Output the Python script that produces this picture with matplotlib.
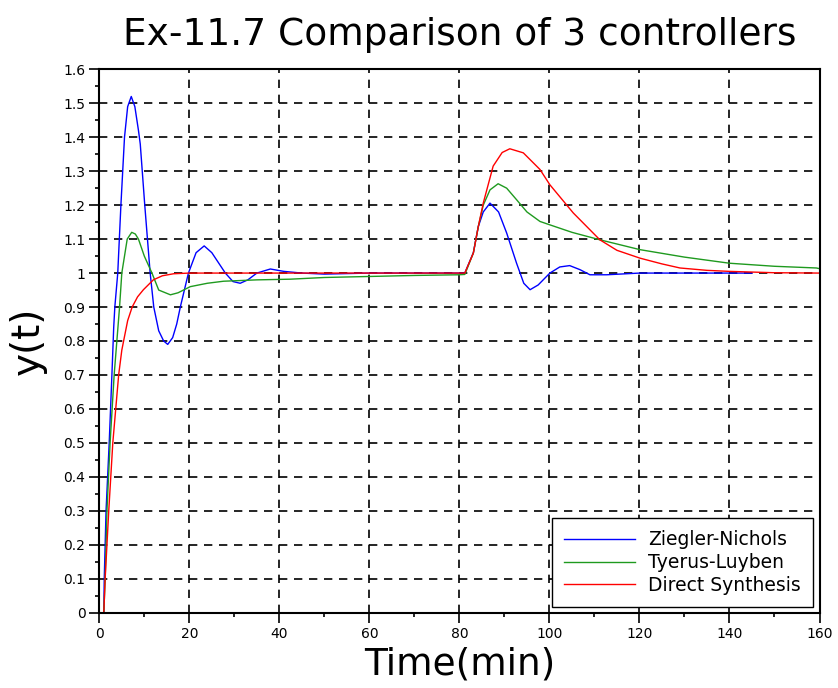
import matplotlib
matplotlib.use("Agg")
import matplotlib.pyplot as plt
from matplotlib.ticker import MultipleLocator

# ---- data ----
t_zn = [0, 1, 1.1, 1.5, 2.2, 2.8, 3.2, 3.45, 4.1, 4.8, 5.6, 6.3, 7.1, 7.9, 8.7, 9.1,
        10.1, 11.3, 12.1, 13.2, 14.3, 15.2, 16.3, 17.2, 18.0, 19.8, 21.5, 23.3, 25.0,
        26.5, 28.0, 29.7, 31.3, 33.0, 35.0, 38.0, 41.0, 45.0, 50.0, 60.0, 80.0, 81.2,
        83.1, 84.2, 85.3, 86.8, 88.7, 90.5, 92.7, 94.3, 95.7, 97.5, 100.1, 102.3,
        104.5, 106.8, 109.0, 112.7, 120.0, 145.0]
y_zn = [0, 0, 0.1, 0.3, 0.5, 0.7, 0.84, 0.9, 1.0, 1.2, 1.4, 1.49, 1.52, 1.49, 1.42, 1.38,
        1.2, 1.0, 0.9, 0.83, 0.80, 0.79, 0.81, 0.85, 0.9, 1.0, 1.06, 1.08, 1.06,
        1.03, 1.0, 0.975, 0.97, 0.98, 1.0, 1.012, 1.005, 1.0, 0.997, 1.0, 1.0, 1.0,
        1.06, 1.137, 1.18, 1.206, 1.18, 1.118, 1.029, 0.97, 0.951, 0.965, 1.0, 1.018,
        1.022, 1.01, 0.995, 0.995, 1.0, 1.0]

t_tl = [0, 1, 1.3, 1.7, 2.4, 3.3, 4.5, 5.0, 6.2, 7.2, 8.0, 8.7, 10.0, 11.7, 13.2, 14.5,
        15.8, 17.5, 20.2, 24.0, 27.6, 35.0, 42.4, 50.0, 60.0, 70.0, 80.0, 81.2, 83.1,
        84.2, 85.3, 86.8, 88.6, 90.5, 92.7, 95.0, 97.9, 100.1, 105.0, 111.2, 120.1,
        130.0, 140.0, 150.0, 159.3, 160.0]
y_tl = [0, 0, 0.1, 0.3, 0.5, 0.7, 0.9, 1.0, 1.1, 1.12, 1.115, 1.1, 1.05, 1.0, 0.95, 0.943,
        0.936, 0.942, 0.960, 0.970, 0.976, 0.980, 0.982, 0.987, 0.99, 0.993, 0.995, 0.996,
        1.059, 1.137, 1.2, 1.245, 1.263, 1.25, 1.216, 1.18, 1.152, 1.142, 1.12, 1.098,
        1.069, 1.047, 1.029, 1.02, 1.015, 1.013]

t_ds = [0, 1, 1.3, 2.1, 3.0, 4.3, 5.0, 5.4, 6.3, 7.3, 8.5, 9.8, 12.0, 14.0, 16.5, 20.0,
        30.0, 50.0, 80.0, 81.2, 83.1, 84.2, 85.3, 87.5, 89.5, 91.2, 94.2, 97.9, 100.1,
        105.3, 111.2, 115.0, 120.1, 125.0, 129.0, 135.0, 140.0, 150.0, 160.0]
y_ds = [0, 0, 0.1, 0.3, 0.5, 0.7, 0.773, 0.8, 0.86, 0.9, 0.93, 0.951, 0.98, 0.992, 0.998, 1.0,
        1.0, 1.0, 1.0, 1.0, 1.059, 1.137, 1.206, 1.315, 1.355, 1.366, 1.354, 1.305, 1.26,
        1.177, 1.098, 1.067, 1.044, 1.027, 1.015, 1.008, 1.005, 1.001, 1.0]

series_names = ["Ziegler-Nichols", "Tyerus-Luyben", "Direct Synthesis"]
series_colors = ["#0000ff", "#1f9a1f", "#ff0000"]

x_ticks = [0, 20, 40, 60, 80, 100, 120, 140, 160]
y_ticks = [0, 0.1, 0.2, 0.3, 0.4, 0.5, 0.6, 0.7, 0.8, 0.9, 1.0, 1.1, 1.2, 1.3, 1.4, 1.5, 1.6]
y_tick_labels = ["0", "0.1", "0.2", "0.3", "0.4", "0.5", "0.6", "0.7", "0.8", "0.9",
                 "1", "1.1", "1.2", "1.3", "1.4", "1.5", "1.6"]

title = "Ex-11.7 Comparison of 3 controllers"
xlabel = "Time(min)"
ylabel = "y(t)"

# ---- figure ----
W, H = 838, 688
fig = plt.figure(figsize=(W / 100, H / 100), dpi=100)
L, R, T, B = 99.3, 819.5, 69.3, 612.7
ax = fig.add_axes([L / W, 1 - B / H, (R - L) / W, (B - T) / H])

for tt, yy, name, col in zip([t_zn, t_tl, t_ds], [y_zn, y_tl, y_ds], series_names, series_colors):
    ax.plot(tt, yy, color=col, lw=1.0, label=name)

ax.set_xlim(0, 160)
ax.set_ylim(0, 1.6)
ax.set_xticks(x_ticks)
ax.set_xticklabels([str(v) for v in x_ticks])
ax.set_yticks(y_ticks)
ax.set_yticklabels(y_tick_labels)
ax.xaxis.set_minor_locator(MultipleLocator(10))
ax.yaxis.set_minor_locator(MultipleLocator(0.05))
ax.tick_params(which="major", direction="out", length=7, width=1.2, labelsize=10, pad=3)
ax.tick_params(which="minor", direction="out", length=3, width=1.2)
ax.tick_params(top=False, right=False)

ax.grid(True, which="major", color="black", linestyle=(0, (5, 4)), linewidth=1.2)
ax.set_axisbelow(True)
for s in ax.spines.values():
    s.set_linewidth(1.5)

fig.text(460 / W, 1 - 35 / H, title, ha="center", va="center", fontsize=27)
ax.set_xlabel(xlabel, fontsize=27, labelpad=4)
ax.set_ylabel(ylabel, fontsize=28, labelpad=12)

leg = ax.legend(loc="lower right", bbox_to_anchor=(1 - 6.5 / (R - L), 5.7 / (B - T)),
                borderaxespad=0, fontsize=13.5, handlelength=3.8, handletextpad=0.7,
                labelspacing=0.2, fancybox=False, framealpha=1, edgecolor="black",
                borderpad=0.65)
leg.get_frame().set_linewidth(1.0)

fig.savefig("out.png", dpi=100)
